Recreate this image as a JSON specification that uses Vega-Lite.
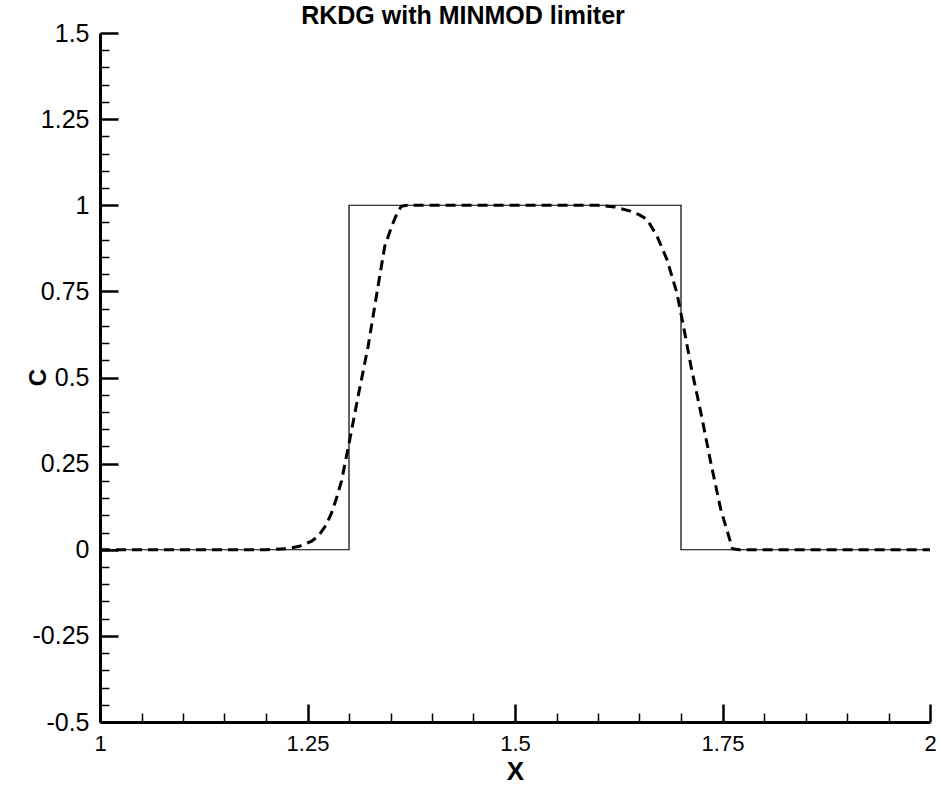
{
  "$schema": "https://vega.github.io/schema/vega-lite/v6.json",
  "width": 830,
  "height": 689,
  "autosize": {"type": "none"},
  "padding": {"left": 100, "top": 33, "right": 11, "bottom": 65},
  "background": "white",
  "config": {
    "view": {"stroke": null},
    "font": "Liberation Sans"
  },
  "title": {
    "text": "RKDG with MINMOD limiter",
    "font": "Liberation Sans",
    "fontSize": 25,
    "fontWeight": "bold",
    "color": "black",
    "anchor": "middle",
    "frame": "group",
    "dx": -52,
    "baseline": "alphabetic",
    "offset": -28
  },
  "data": {
    "values": [
      {"series": "exact", "i": 0, "x": 1.0, "c": 0},
      {"series": "exact", "i": 1, "x": 1.3, "c": 0},
      {"series": "exact", "i": 2, "x": 1.3, "c": 1},
      {"series": "exact", "i": 3, "x": 1.7, "c": 1},
      {"series": "exact", "i": 4, "x": 1.7, "c": 0},
      {"series": "exact", "i": 5, "x": 2.0, "c": 0},
      {"series": "rkdg", "i": 0, "x": 1.0, "c": 0},
      {"series": "rkdg", "i": 1, "x": 1.2, "c": 0},
      {"series": "rkdg", "i": 2, "x": 1.225, "c": 0.003},
      {"series": "rkdg", "i": 3, "x": 1.24, "c": 0.01},
      {"series": "rkdg", "i": 4, "x": 1.255, "c": 0.025},
      {"series": "rkdg", "i": 5, "x": 1.263, "c": 0.04},
      {"series": "rkdg", "i": 6, "x": 1.272, "c": 0.07},
      {"series": "rkdg", "i": 7, "x": 1.279, "c": 0.107},
      {"series": "rkdg", "i": 8, "x": 1.285, "c": 0.15},
      {"series": "rkdg", "i": 9, "x": 1.291, "c": 0.2},
      {"series": "rkdg", "i": 10, "x": 1.301, "c": 0.32},
      {"series": "rkdg", "i": 11, "x": 1.311, "c": 0.446},
      {"series": "rkdg", "i": 12, "x": 1.323, "c": 0.59},
      {"series": "rkdg", "i": 13, "x": 1.335, "c": 0.765},
      {"series": "rkdg", "i": 14, "x": 1.343, "c": 0.88},
      {"series": "rkdg", "i": 15, "x": 1.348, "c": 0.915},
      {"series": "rkdg", "i": 16, "x": 1.353, "c": 0.948},
      {"series": "rkdg", "i": 17, "x": 1.358, "c": 0.977},
      {"series": "rkdg", "i": 18, "x": 1.363, "c": 0.997},
      {"series": "rkdg", "i": 19, "x": 1.37, "c": 1.0},
      {"series": "rkdg", "i": 20, "x": 1.6, "c": 1.0},
      {"series": "rkdg", "i": 21, "x": 1.62, "c": 0.995},
      {"series": "rkdg", "i": 22, "x": 1.639, "c": 0.983},
      {"series": "rkdg", "i": 23, "x": 1.65, "c": 0.972},
      {"series": "rkdg", "i": 24, "x": 1.659, "c": 0.959},
      {"series": "rkdg", "i": 25, "x": 1.671, "c": 0.911},
      {"series": "rkdg", "i": 26, "x": 1.683, "c": 0.843},
      {"series": "rkdg", "i": 27, "x": 1.695, "c": 0.746},
      {"series": "rkdg", "i": 28, "x": 1.703, "c": 0.649},
      {"series": "rkdg", "i": 29, "x": 1.712, "c": 0.533},
      {"series": "rkdg", "i": 30, "x": 1.724, "c": 0.397},
      {"series": "rkdg", "i": 31, "x": 1.736, "c": 0.252},
      {"series": "rkdg", "i": 32, "x": 1.748, "c": 0.116},
      {"series": "rkdg", "i": 33, "x": 1.755, "c": 0.06},
      {"series": "rkdg", "i": 34, "x": 1.762, "c": 0.003},
      {"series": "rkdg", "i": 35, "x": 1.77, "c": 0},
      {"series": "rkdg", "i": 36, "x": 2.0, "c": 0}
    ]
  },
  "encoding": {
    "x": {
      "field": "x",
      "type": "quantitative",
      "scale": {"domain": [1, 2], "nice": false, "zero": false},
      "axis": {
        "title": "X",
        "titleFont": "Liberation Sans",
        "titleFontSize": 26,
        "titleFontWeight": "bold",
        "titleColor": "black",
        "titleX": 415,
        "titleY": 49,
        "titleBaseline": "middle",
        "titleAlign": "center",
        "grid": false,
        "values": [1, 1.05, 1.1, 1.15, 1.2, 1.25, 1.3, 1.35, 1.4, 1.45, 1.5, 1.55, 1.6, 1.65, 1.7, 1.75, 1.8, 1.85, 1.9, 1.95, 2],
        "labelExpr": "abs(datum.value*4 - round(datum.value*4)) < 0.001 ? '' + datum.value : ''",
        "labelFont": "Liberation Sans",
        "labelFontSize": 22,
        "labelColor": "black",
        "labelPadding": 29,
        "labelFlush": false,
        "labelOverlap": false,
        "domainColor": "black",
        "domainWidth": 3,
        "tickColor": "black",
        "tickSize": {"condition": {"test": "abs(datum.value*4 - round(datum.value*4)) < 0.001", "value": -18}, "value": -9},
        "tickWidth": {"condition": {"test": "abs(datum.value*4 - round(datum.value*4)) < 0.001", "value": 2.5}, "value": 1.5}
      }
    },
    "y": {
      "field": "c",
      "type": "quantitative",
      "scale": {"domain": [-0.5, 1.5], "nice": false, "zero": false},
      "axis": {
        "title": "C",
        "titleFont": "Liberation Sans",
        "titleFontSize": 24,
        "titleFontWeight": "bold",
        "titleColor": "black",
        "titleAngle": -90,
        "titleX": -62,
        "titleY": 344,
        "titleBaseline": "middle",
        "titleAlign": "center",
        "grid": false,
        "values": [-0.5, -0.45, -0.4, -0.35, -0.3, -0.25, -0.2, -0.15, -0.1, -0.05, 0, 0.05, 0.1, 0.15, 0.2, 0.25, 0.3, 0.35, 0.4, 0.45, 0.5, 0.55, 0.6, 0.65, 0.7, 0.75, 0.8, 0.85, 0.9, 0.95, 1, 1.05, 1.1, 1.15, 1.2, 1.25, 1.3, 1.35, 1.4, 1.45, 1.5],
        "labelExpr": "abs(datum.value*4 - round(datum.value*4)) < 0.001 ? '' + datum.value : ''",
        "labelFont": "Liberation Sans",
        "labelFontSize": 25,
        "labelColor": "black",
        "labelPadding": 29,
        "labelFlush": false,
        "labelOverlap": false,
        "domainColor": "black",
        "domainWidth": 3,
        "tickColor": "black",
        "tickSize": {"condition": {"test": "abs(datum.value*4 - round(datum.value*4)) < 0.001", "value": -18}, "value": -9},
        "tickWidth": {"condition": {"test": "abs(datum.value*4 - round(datum.value*4)) < 0.001", "value": 2.5}, "value": 1.5}
      }
    },
    "order": {"field": "i", "type": "quantitative"}
  },
  "layer": [
    {
      "transform": [{"filter": "datum.series === 'exact'"}],
      "mark": {"type": "line", "color": "black", "strokeWidth": 1.2, "clip": false}
    },
    {
      "transform": [{"filter": "datum.series === 'rkdg'"}],
      "mark": {"type": "line", "color": "black", "strokeWidth": 3, "strokeDash": [10, 6], "clip": false}
    }
  ]
}
